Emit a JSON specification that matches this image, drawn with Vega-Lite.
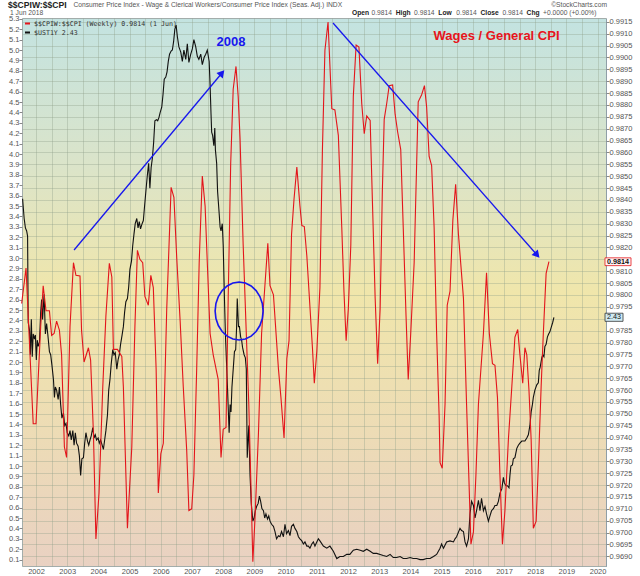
{
"$schema": "https://vega.github.io/schema/vega-lite/v6.json",
"width": 584, "height": 548, "autosize": "none",
"padding": {"left": 22, "top": 18, "right": 34, "bottom": 10},
"background": "white",
"view": {"stroke": "#a3adab", "strokeWidth": 1, "fill": {"gradient": "linear", "x1": 0, "y1": 0, "x2": 0, "y2": 1, "stops": [{"offset": 0, "color": "#c3e3e1"}, {"offset": 0.27, "color": "#dbe4c9"}, {"offset": 0.5, "color": "#f0e6ab"}, {"offset": 0.75, "color": "#eddcb5"}, {"offset": 1, "color": "#e9d1c2"}]}},
"config": {"font": "Liberation Sans", "axis": {"labelFont": "Liberation Sans", "labelFontSize": 7.5, "labelColor": "#555", "title": null, "gridColor": "#8fa08a", "gridOpacity": 0.45, "gridWidth": 0.8}},
"datasets": {
"cpi": [{"yr":2001.54,"r":0.97964},{"yr":2001.68,"r":0.98113},{"yr":2001.91,"r":0.97458},{"yr":2002.0,"r":0.97458},{"yr":2002.15,"r":0.97867},{"yr":2002.23,"r":0.98039},{"yr":2002.32,"r":0.97934},{"yr":2002.43,"r":0.97934},{"yr":2002.5,"r":0.9783},{"yr":2002.58,"r":0.97838},{"yr":2002.66,"r":0.9789},{"yr":2002.75,"r":0.97852},{"yr":2002.82,"r":0.97748},{"yr":2002.91,"r":0.9736},{"yr":2002.98,"r":0.97316},{"yr":2003.09,"r":0.97867},{"yr":2003.2,"r":0.98136},{"yr":2003.28,"r":0.98083},{"yr":2003.41,"r":0.9808},{"yr":2003.46,"r":0.97852},{"yr":2003.54,"r":0.97718},{"yr":2003.68,"r":0.97778},{"yr":2003.75,"r":0.97726},{"yr":2003.84,"r":0.9742},{"yr":2003.92,"r":0.96973},{"yr":2004.02,"r":0.97167},{"yr":2004.14,"r":0.97614},{"yr":2004.24,"r":0.97912},{"yr":2004.35,"r":0.98133},{"yr":2004.43,"r":0.98076},{"yr":2004.48,"r":0.97771},{"yr":2004.61,"r":0.97771},{"yr":2004.75,"r":0.97741},{"yr":2004.8,"r":0.97614},{"yr":2004.93,"r":0.97018},{"yr":2005.07,"r":0.9736},{"yr":2005.17,"r":0.97867},{"yr":2005.25,"r":0.98188},{"yr":2005.33,"r":0.9815},{"yr":2005.42,"r":0.98136},{"yr":2005.49,"r":0.97994},{"yr":2005.6,"r":0.97957},{"yr":2005.68,"r":0.98083},{"yr":2005.76,"r":0.98031},{"yr":2005.85,"r":0.97689},{"yr":2005.92,"r":0.97167},{"yr":2006.0,"r":0.97331},{"yr":2006.08,"r":0.97376},{"yr":2006.19,"r":0.97942},{"yr":2006.33,"r":0.98453},{"yr":2006.42,"r":0.98411},{"yr":2006.51,"r":0.98158},{"yr":2006.62,"r":0.9789},{"yr":2006.72,"r":0.97614},{"yr":2006.83,"r":0.97346},{"yr":2006.9,"r":0.97093},{"yr":2006.99,"r":0.971},{"yr":2007.06,"r":0.97242},{"yr":2007.15,"r":0.97689},{"yr":2007.23,"r":0.98136},{"yr":2007.33,"r":0.98501},{"yr":2007.42,"r":0.98374},{"yr":2007.49,"r":0.98136},{"yr":2007.58,"r":0.97838},{"yr":2007.68,"r":0.97748},{"yr":2007.84,"r":0.97644},{"yr":2007.93,"r":0.97316},{"yr":2008.0,"r":0.97435},{"yr":2008.09,"r":0.97443},{"yr":2008.16,"r":0.97987},{"yr":2008.24,"r":0.98553},{"yr":2008.32,"r":0.98866},{"yr":2008.41,"r":0.98962},{"yr":2008.48,"r":0.98836},{"yr":2008.54,"r":0.98657},{"yr":2008.64,"r":0.9821},{"yr":2008.82,"r":0.9754},{"yr":2008.88,"r":0.97242},{"yr":2008.95,"r":0.96877},{"yr":2009.02,"r":0.97063},{"yr":2009.13,"r":0.9742},{"yr":2009.23,"r":0.97838},{"yr":2009.34,"r":0.98046},{"yr":2009.43,"r":0.98218},{"yr":2009.5,"r":0.98039},{"yr":2009.61,"r":0.98001},{"yr":2009.77,"r":0.97689},{"yr":2009.85,"r":0.97569},{"yr":2009.95,"r":0.97398},{"yr":2010.04,"r":0.97733},{"yr":2010.11,"r":0.97808},{"yr":2010.19,"r":0.98255},{"yr":2010.27,"r":0.98404},{"yr":2010.36,"r":0.98538},{"yr":2010.46,"r":0.98374},{"yr":2010.52,"r":0.98292},{"yr":2010.6,"r":0.98288},{"yr":2010.68,"r":0.98165},{"yr":2010.86,"r":0.97778},{"yr":2010.92,"r":0.97629},{"yr":2011.0,"r":0.97763},{"yr":2011.1,"r":0.98031},{"yr":2011.18,"r":0.98612},{"yr":2011.26,"r":0.9903},{"yr":2011.36,"r":0.99149},{"yr":2011.48,"r":0.98784},{"yr":2011.58,"r":0.98779},{"yr":2011.69,"r":0.98672},{"yr":2011.8,"r":0.98285},{"yr":2011.87,"r":0.98016},{"yr":2011.94,"r":0.97808},{"yr":2012.01,"r":0.97942},{"yr":2012.09,"r":0.9821},{"yr":2012.17,"r":0.98836},{"yr":2012.26,"r":0.99052},{"yr":2012.35,"r":0.99044},{"yr":2012.44,"r":0.98806},{"yr":2012.52,"r":0.98679},{"yr":2012.6,"r":0.98754},{"yr":2012.71,"r":0.98735},{"yr":2012.79,"r":0.98359},{"yr":2012.87,"r":0.97987},{"yr":2012.95,"r":0.97711},{"yr":2013.03,"r":0.97942},{"yr":2013.1,"r":0.98434},{"yr":2013.16,"r":0.98739},{"yr":2013.24,"r":0.98806},{"yr":2013.32,"r":0.98881},{"yr":2013.43,"r":0.98884},{"yr":2013.51,"r":0.98761},{"yr":2013.59,"r":0.98687},{"yr":2013.69,"r":0.98612},{"yr":2013.77,"r":0.98285},{"yr":2013.86,"r":0.97912},{"yr":2013.93,"r":0.97644},{"yr":2014.01,"r":0.97838},{"yr":2014.12,"r":0.98136},{"yr":2014.25,"r":0.98813},{"yr":2014.36,"r":0.98843},{"yr":2014.45,"r":0.98881},{"yr":2014.52,"r":0.98791},{"yr":2014.6,"r":0.98583},{"yr":2014.68,"r":0.98545},{"yr":2014.76,"r":0.98285},{"yr":2014.84,"r":0.97838},{"yr":2014.92,"r":0.97495},{"yr":2014.95,"r":0.97294},{"yr":2015.02,"r":0.97271},{"yr":2015.11,"r":0.9754},{"yr":2015.18,"r":0.97957},{"yr":2015.27,"r":0.98016},{"yr":2015.36,"r":0.98314},{"yr":2015.45,"r":0.98466},{"yr":2015.54,"r":0.98255},{"yr":2015.7,"r":0.97987},{"yr":2015.8,"r":0.9754},{"yr":2015.94,"r":0.96951},{"yr":2016.02,"r":0.97003},{"yr":2016.1,"r":0.97242},{"yr":2016.18,"r":0.9754},{"yr":2016.34,"r":0.97838},{"yr":2016.44,"r":0.98094},{"yr":2016.53,"r":0.97838},{"yr":2016.63,"r":0.97711},{"yr":2016.71,"r":0.97704},{"yr":2016.79,"r":0.97569},{"yr":2016.87,"r":0.97242},{"yr":2016.95,"r":0.96951},{"yr":2017.03,"r":0.97093},{"yr":2017.14,"r":0.97391},{"yr":2017.25,"r":0.97614},{"yr":2017.35,"r":0.97823},{"yr":2017.44,"r":0.97855},{"yr":2017.51,"r":0.97748},{"yr":2017.6,"r":0.97629},{"yr":2017.67,"r":0.97778},{"yr":2017.73,"r":0.97748},{"yr":2017.8,"r":0.97599},{"yr":2017.87,"r":0.97391},{"yr":2017.94,"r":0.97018},{"yr":2018.03,"r":0.97048},{"yr":2018.11,"r":0.97316},{"yr":2018.19,"r":0.97614},{"yr":2018.26,"r":0.97838},{"yr":2018.35,"r":0.98091},{"yr":2018.44,"r":0.9814}],
"ust": [{"yr":2001.57,"v":3.57},{"yr":2001.62,"v":3.38},{"yr":2001.66,"v":3.29},{"yr":2001.7,"v":3.26},{"yr":2001.73,"v":3.21},{"yr":2001.75,"v":2.38},{"yr":2001.79,"v":2.31},{"yr":2001.82,"v":2.07},{"yr":2001.85,"v":2.41},{"yr":2001.88,"v":2.05},{"yr":2001.91,"v":2.27},{"yr":2001.95,"v":2.22},{"yr":2001.98,"v":2.26},{"yr":2002.01,"v":2.02},{"yr":2002.04,"v":2.21},{"yr":2002.07,"v":2.15},{"yr":2002.11,"v":2.19},{"yr":2002.15,"v":2.48},{"yr":2002.18,"v":2.6},{"yr":2002.21,"v":2.41},{"yr":2002.26,"v":2.65},{"yr":2002.3,"v":2.27},{"yr":2002.34,"v":2.37},{"yr":2002.38,"v":2.26},{"yr":2002.43,"v":2.1},{"yr":2002.47,"v":2.07},{"yr":2002.51,"v":1.97},{"yr":2002.56,"v":1.83},{"yr":2002.59,"v":1.66},{"yr":2002.62,"v":1.76},{"yr":2002.66,"v":1.73},{"yr":2002.71,"v":1.64},{"yr":2002.75,"v":1.76},{"yr":2002.79,"v":1.59},{"yr":2002.83,"v":1.46},{"yr":2002.88,"v":1.51},{"yr":2002.92,"v":1.39},{"yr":2002.96,"v":1.41},{"yr":2003.0,"v":1.32},{"yr":2003.05,"v":1.29},{"yr":2003.09,"v":1.34},{"yr":2003.13,"v":1.25},{"yr":2003.18,"v":1.34},{"yr":2003.22,"v":1.2},{"yr":2003.26,"v":1.32},{"yr":2003.3,"v":1.22},{"yr":2003.35,"v":1.19},{"yr":2003.39,"v":1.1},{"yr":2003.43,"v":0.91},{"yr":2003.47,"v":1.07},{"yr":2003.52,"v":1.08},{"yr":2003.56,"v":1.22},{"yr":2003.6,"v":1.32},{"yr":2003.65,"v":1.24},{"yr":2003.69,"v":1.2},{"yr":2003.73,"v":1.25},{"yr":2003.77,"v":1.29},{"yr":2003.82,"v":1.37},{"yr":2003.86,"v":1.27},{"yr":2003.9,"v":1.3},{"yr":2003.94,"v":1.25},{"yr":2003.99,"v":1.27},{"yr":2004.03,"v":1.22},{"yr":2004.07,"v":1.25},{"yr":2004.12,"v":1.2},{"yr":2004.16,"v":1.16},{"yr":2004.2,"v":1.25},{"yr":2004.24,"v":1.34},{"yr":2004.29,"v":1.49},{"yr":2004.33,"v":1.73},{"yr":2004.37,"v":1.83},{"yr":2004.41,"v":1.98},{"yr":2004.46,"v":2.12},{"yr":2004.5,"v":2.07},{"yr":2004.54,"v":2.09},{"yr":2004.59,"v":1.93},{"yr":2004.63,"v":2.02},{"yr":2004.67,"v":2.07},{"yr":2004.71,"v":2.17},{"yr":2004.76,"v":2.26},{"yr":2004.8,"v":2.34},{"yr":2004.84,"v":2.48},{"yr":2004.88,"v":2.58},{"yr":2004.93,"v":2.61},{"yr":2004.97,"v":2.72},{"yr":2005.01,"v":2.89},{"yr":2005.06,"v":2.97},{"yr":2005.1,"v":3.12},{"yr":2005.14,"v":3.23},{"yr":2005.18,"v":3.33},{"yr":2005.23,"v":3.38},{"yr":2005.27,"v":3.29},{"yr":2005.31,"v":3.35},{"yr":2005.35,"v":3.28},{"yr":2005.4,"v":3.33},{"yr":2005.44,"v":3.36},{"yr":2005.48,"v":3.5},{"yr":2005.53,"v":3.67},{"yr":2005.57,"v":3.8},{"yr":2005.61,"v":3.91},{"yr":2005.65,"v":3.67},{"yr":2005.69,"v":3.87},{"yr":2005.73,"v":3.96},{"yr":2005.77,"v":4.11},{"yr":2005.81,"v":4.32},{"yr":2005.86,"v":4.33},{"yr":2005.9,"v":4.32},{"yr":2005.94,"v":4.35},{"yr":2005.98,"v":4.4},{"yr":2006.03,"v":4.45},{"yr":2006.07,"v":4.57},{"yr":2006.11,"v":4.72},{"yr":2006.16,"v":4.74},{"yr":2006.2,"v":4.79},{"yr":2006.24,"v":4.89},{"yr":2006.28,"v":4.96},{"yr":2006.33,"v":4.99},{"yr":2006.37,"v":5.0},{"yr":2006.41,"v":5.08},{"yr":2006.45,"v":5.2},{"yr":2006.49,"v":5.24},{"yr":2006.53,"v":5.13},{"yr":2006.58,"v":5.03},{"yr":2006.64,"v":4.98},{"yr":2006.69,"v":4.89},{"yr":2006.74,"v":5.0},{"yr":2006.8,"v":4.91},{"yr":2006.85,"v":5.06},{"yr":2006.9,"v":4.88},{"yr":2006.96,"v":4.96},{"yr":2007.01,"v":5.01},{"yr":2007.06,"v":5.1},{"yr":2007.12,"v":5.03},{"yr":2007.17,"v":4.94},{"yr":2007.22,"v":4.91},{"yr":2007.28,"v":4.96},{"yr":2007.33,"v":4.86},{"yr":2007.39,"v":4.93},{"yr":2007.44,"v":4.96},{"yr":2007.49,"v":5.0},{"yr":2007.55,"v":4.89},{"yr":2007.58,"v":4.66},{"yr":2007.61,"v":4.38},{"yr":2007.63,"v":4.21},{"yr":2007.66,"v":4.18},{"yr":2007.7,"v":4.08},{"yr":2007.73,"v":4.25},{"yr":2007.75,"v":4.04},{"yr":2007.79,"v":3.91},{"yr":2007.82,"v":3.64},{"yr":2007.87,"v":3.43},{"yr":2007.9,"v":3.3},{"yr":2007.93,"v":3.26},{"yr":2007.97,"v":3.33},{"yr":2008.0,"v":3.12},{"yr":2008.04,"v":2.61},{"yr":2008.07,"v":2.27},{"yr":2008.1,"v":2.04},{"yr":2008.14,"v":1.73},{"yr":2008.19,"v":1.32},{"yr":2008.22,"v":1.59},{"yr":2008.25,"v":1.52},{"yr":2008.28,"v":1.76},{"yr":2008.33,"v":1.97},{"yr":2008.36,"v":2.1},{"yr":2008.4,"v":2.12},{"yr":2008.43,"v":2.34},{"yr":2008.45,"v":2.61},{"yr":2008.49,"v":2.34},{"yr":2008.52,"v":2.34},{"yr":2008.56,"v":2.24},{"yr":2008.59,"v":2.21},{"yr":2008.62,"v":2.14},{"yr":2008.67,"v":2.07},{"yr":2008.71,"v":2.04},{"yr":2008.74,"v":1.93},{"yr":2008.77,"v":1.08},{"yr":2008.82,"v":1.39},{"yr":2008.86,"v":0.91},{"yr":2008.9,"v":0.64},{"yr":2008.95,"v":0.47},{"yr":2008.99,"v":0.5},{"yr":2009.03,"v":0.57},{"yr":2009.07,"v":0.61},{"yr":2009.12,"v":0.64},{"yr":2009.16,"v":0.71},{"yr":2009.2,"v":0.66},{"yr":2009.24,"v":0.59},{"yr":2009.29,"v":0.57},{"yr":2009.33,"v":0.5},{"yr":2009.37,"v":0.54},{"yr":2009.42,"v":0.49},{"yr":2009.46,"v":0.52},{"yr":2009.5,"v":0.47},{"yr":2009.55,"v":0.44},{"yr":2009.61,"v":0.42},{"yr":2009.66,"v":0.37},{"yr":2009.71,"v":0.3},{"yr":2009.77,"v":0.33},{"yr":2009.82,"v":0.32},{"yr":2009.87,"v":0.37},{"yr":2009.93,"v":0.32},{"yr":2009.98,"v":0.44},{"yr":2010.03,"v":0.35},{"yr":2010.09,"v":0.38},{"yr":2010.14,"v":0.33},{"yr":2010.19,"v":0.42},{"yr":2010.25,"v":0.44},{"yr":2010.3,"v":0.4},{"yr":2010.36,"v":0.37},{"yr":2010.41,"v":0.32},{"yr":2010.46,"v":0.3},{"yr":2010.52,"v":0.28},{"yr":2010.57,"v":0.25},{"yr":2010.62,"v":0.27},{"yr":2010.68,"v":0.23},{"yr":2010.73,"v":0.23},{"yr":2010.78,"v":0.21},{"yr":2010.84,"v":0.25},{"yr":2010.89,"v":0.27},{"yr":2010.94,"v":0.23},{"yr":2011.0,"v":0.27},{"yr":2011.05,"v":0.3},{"yr":2011.1,"v":0.28},{"yr":2011.21,"v":0.23},{"yr":2011.32,"v":0.21},{"yr":2011.42,"v":0.23},{"yr":2011.53,"v":0.18},{"yr":2011.64,"v":0.11},{"yr":2011.74,"v":0.13},{"yr":2011.85,"v":0.13},{"yr":2011.96,"v":0.15},{"yr":2012.06,"v":0.15},{"yr":2012.17,"v":0.19},{"yr":2012.28,"v":0.2},{"yr":2012.39,"v":0.19},{"yr":2012.49,"v":0.18},{"yr":2012.6,"v":0.2},{"yr":2012.71,"v":0.18},{"yr":2012.81,"v":0.16},{"yr":2012.92,"v":0.16},{"yr":2013.03,"v":0.15},{"yr":2013.13,"v":0.14},{"yr":2013.24,"v":0.13},{"yr":2013.35,"v":0.15},{"yr":2013.45,"v":0.12},{"yr":2013.56,"v":0.12},{"yr":2013.67,"v":0.13},{"yr":2013.77,"v":0.11},{"yr":2013.88,"v":0.11},{"yr":2013.99,"v":0.12},{"yr":2014.09,"v":0.11},{"yr":2014.2,"v":0.11},{"yr":2014.31,"v":0.1},{"yr":2014.41,"v":0.1},{"yr":2014.52,"v":0.11},{"yr":2014.63,"v":0.11},{"yr":2014.74,"v":0.13},{"yr":2014.84,"v":0.15},{"yr":2014.95,"v":0.21},{"yr":2015.0,"v":0.25},{"yr":2015.06,"v":0.21},{"yr":2015.16,"v":0.27},{"yr":2015.27,"v":0.28},{"yr":2015.38,"v":0.27},{"yr":2015.43,"v":0.3},{"yr":2015.48,"v":0.32},{"yr":2015.59,"v":0.4},{"yr":2015.64,"v":0.38},{"yr":2015.7,"v":0.37},{"yr":2015.75,"v":0.27},{"yr":2015.8,"v":0.23},{"yr":2015.86,"v":0.3},{"yr":2015.91,"v":0.54},{"yr":2015.96,"v":0.66},{"yr":2016.02,"v":0.62},{"yr":2016.07,"v":0.5},{"yr":2016.12,"v":0.57},{"yr":2016.18,"v":0.67},{"yr":2016.23,"v":0.57},{"yr":2016.28,"v":0.69},{"yr":2016.34,"v":0.57},{"yr":2016.39,"v":0.61},{"yr":2016.44,"v":0.54},{"yr":2016.5,"v":0.47},{"yr":2016.55,"v":0.52},{"yr":2016.6,"v":0.57},{"yr":2016.66,"v":0.59},{"yr":2016.71,"v":0.62},{"yr":2016.77,"v":0.62},{"yr":2016.82,"v":0.66},{"yr":2016.87,"v":0.74},{"yr":2016.93,"v":0.78},{"yr":2016.98,"v":0.89},{"yr":2017.01,"v":0.84},{"yr":2017.06,"v":0.81},{"yr":2017.11,"v":0.81},{"yr":2017.16,"v":0.79},{"yr":2017.19,"v":0.91},{"yr":2017.22,"v":1.0},{"yr":2017.27,"v":1.01},{"yr":2017.3,"v":1.07},{"yr":2017.35,"v":1.08},{"yr":2017.41,"v":1.17},{"yr":2017.46,"v":1.2},{"yr":2017.51,"v":1.22},{"yr":2017.57,"v":1.24},{"yr":2017.62,"v":1.24},{"yr":2017.67,"v":1.24},{"yr":2017.73,"v":1.27},{"yr":2017.78,"v":1.3},{"yr":2017.83,"v":1.39},{"yr":2017.87,"v":1.52},{"yr":2017.91,"v":1.59},{"yr":2017.94,"v":1.66},{"yr":2017.99,"v":1.73},{"yr":2018.05,"v":1.78},{"yr":2018.1,"v":1.8},{"yr":2018.13,"v":1.92},{"yr":2018.16,"v":1.95},{"yr":2018.21,"v":2.04},{"yr":2018.24,"v":2.07},{"yr":2018.28,"v":2.05},{"yr":2018.31,"v":2.15},{"yr":2018.35,"v":2.17},{"yr":2018.39,"v":2.24},{"yr":2018.43,"v":2.27},{"yr":2018.47,"v":2.29},{"yr":2018.52,"v":2.34},{"yr":2018.56,"v":2.38},{"yr":2018.6,"v":2.43}],
"arrows": [{"x1":2003.22,"y1":3.077,"x2":2007.96,"y2":4.779},{"x1":2011.52,"y1":5.26,"x2":2018.06,"y2":3.029}]
},
"layer": [
{"layer": [
  {"data": {"name": "ust"}, "mark": {"type": "line", "strokeWidth": 1.1},
   "encoding": {
    "x": {"field": "yr", "type": "quantitative", "scale": {"domain": [2001.551, 2020.269], "nice": false, "zero": false},
          "axis": {"values": [2002,2002.5,2003,2003.5,2004,2004.5,2005,2005.5,2006,2006.5,2007,2007.5,2008,2008.5,2009,2009.5,2010,2010.5,2011,2011.5,2012,2012.5,2013,2013.5,2014,2014.5,2015,2015.5,2016,2016.5,2017,2017.5,2018,2018.5,2019,2019.5,2020],
                   "tickCount": 500, "labelExpr": "datum.value % 1 === 0 ? format(datum.value, 'd') : ''", "grid": true, "ticks": false, "domain": false, "labelPadding": 1, "labelOverlap": false, "title": null}},
    "y": {"field": "v", "type": "quantitative", "scale": {"domain": [0.0385, 5.3077], "nice": false, "zero": false},
          "axis": {"orient": "left", "values": [0.1,0.2,0.3,0.4,0.5,0.6,0.7,0.8,0.9,1.0,1.1,1.2,1.3,1.4,1.5,1.6,1.7,1.8,1.9,2.0,2.1,2.2,2.3,2.4,2.5,2.6,2.7,2.8,2.9,3.0,3.1,3.2,3.3,3.4,3.5,3.6,3.7,3.8,3.9,4.0,4.1,4.2,4.3,4.4,4.5,4.6,4.7,4.8,4.9,5.0,5.1,5.2,5.3],
                   "tickCount": 500, "format": ".1f", "grid": false, "ticks": true, "tickSize": 3, "tickColor": "#888", "domain": false, "labelPadding": 0, "labelOverlap": false, "title": null}},
    "color": {"datum": "$UST1Y 2.43", "type": "nominal",
              "scale": {"domain": ["$$CPIW:$$CPI (Weekly) 0.9814 (1 Jun)", "$UST1Y 2.43"], "range": ["#e3151b", "#111111"]},
              "legend": {"orient": "top-left", "offset": 2, "padding": 0, "title": null, "symbolType": "stroke", "symbolSize": 25, "symbolStrokeWidth": 2, "labelFont": "DejaVu Sans Mono", "labelFontSize": 6.6, "labelColor": "#333", "rowPadding": 0, "labelOffset": 3, "labelLimit": 0}}
   }},
  {"data": {"values": [{"yr": 2020.526, "v": 2.43}]},
   "mark": {"type": "point", "shape": "M -1 -0.45 L 1 -0.45 L 1 0.45 L -1 0.45 Z", "size": 324, "filled": true, "fill": "#cfeaf2", "stroke": "#333", "strokeWidth": 0.8, "opacity": 1},
   "encoding": {"x": {"field": "yr", "type": "quantitative"}, "y": {"field": "v", "type": "quantitative"}}},
  {"data": {"values": [{"yr": 2020.526, "v": 2.43, "t": "2.43"}]},
   "mark": {"type": "text", "fontSize": 7.2, "color": "#111", "align": "center", "baseline": "middle"},
   "encoding": {"x": {"field": "yr", "type": "quantitative"}, "y": {"field": "v", "type": "quantitative"}, "text": {"field": "t"}}}
]},
{"layer": [
  {"data": {"name": "cpi"}, "mark": {"type": "line", "strokeWidth": 1.1},
   "encoding": {
    "x": {"field": "yr", "type": "quantitative"},
    "y": {"field": "r", "type": "quantitative", "scale": {"domain": [0.968594, 0.991658], "nice": false, "zero": false},
          "axis": {"orient": "right", "values": [0.969,0.9695,0.97,0.9705,0.971,0.9715,0.972,0.9725,0.973,0.9735,0.974,0.9745,0.975,0.9755,0.976,0.9765,0.977,0.9775,0.978,0.9785,0.979,0.9795,0.98,0.9805,0.981,0.9815,0.982,0.9825,0.983,0.9835,0.984,0.9845,0.985,0.9855,0.986,0.9865,0.987,0.9875,0.988,0.9885,0.989,0.9895,0.99,0.9905,0.991,0.9915],
                   "tickCount": 500, "labelExpr": "datum.value === 0.9815 || datum.value === 0.979 ? '' : format(datum.value, '.4f')", "grid": true, "ticks": true, "tickSize": 3, "tickColor": "#888", "domain": true, "domainColor": "#7d90a3", "domainDash": [1, 1], "labelPadding": 0, "labelOverlap": false, "title": null}},
    "color": {"datum": "$$CPIW:$$CPI (Weekly) 0.9814 (1 Jun)", "type": "nominal"}
   }},
  {"data": {"values": [{"yr": 2020.654, "r": 0.9814}]},
   "mark": {"type": "point", "shape": "M -1 -0.3 L 1 -0.3 L 1 0.3 L -1 0.3 Z", "size": 676, "filled": true, "fill": "#fff3f3", "stroke": "#e3151b", "strokeWidth": 0.8, "opacity": 1},
   "encoding": {"x": {"field": "yr", "type": "quantitative"}, "y": {"field": "r", "type": "quantitative"}}},
  {"data": {"values": [{"yr": 2020.654, "r": 0.9814, "t": "0.9814"}]},
   "mark": {"type": "text", "fontSize": 7.2, "fontWeight": "bold", "color": "#111", "align": "center", "baseline": "middle"},
   "encoding": {"x": {"field": "yr", "type": "quantitative"}, "y": {"field": "r", "type": "quantitative"}, "text": {"field": "t"}}}
]},
{"layer": [
  {"data": {"name": "arrows"}, "mark": {"type": "rule", "color": "#1717ee", "strokeWidth": 1.3},
   "encoding": {"x": {"field": "x1", "type": "quantitative"}, "y": {"field": "y1", "type": "quantitative", "scale": {"domain": [0.0385, 5.3077], "nice": false, "zero": false}, "axis": null},
                "x2": {"field": "x2"}, "y2": {"field": "y2"}}},
  {"data": {"values": [{"yr": 2007.96, "v": 4.779}]},
   "mark": {"type": "point", "shape": "triangle-up", "size": 70, "filled": true, "color": "#1717ee", "opacity": 1, "angle": 40},
   "encoding": {"x": {"field": "yr", "type": "quantitative"}, "y": {"field": "v", "type": "quantitative"}}},
  {"data": {"values": [{"yr": 2018.06, "v": 3.029}]},
   "mark": {"type": "point", "shape": "triangle-up", "size": 70, "filled": true, "color": "#1717ee", "opacity": 1, "angle": 139},
   "encoding": {"x": {"field": "yr", "type": "quantitative"}, "y": {"field": "v", "type": "quantitative"}}},
  {"data": {"values": [{"yr": 2008.51, "v": 2.49}]},
   "mark": {"type": "point", "shape": "M 1 0 L 0.966 0.313 L 0.866 0.604 L 0.707 0.854 L 0.5 1.046 L 0.259 1.167 L 0 1.208 L -0.259 1.167 L -0.5 1.046 L -0.707 0.854 L -0.866 0.604 L -0.966 0.313 L -1 0 L -0.966 -0.313 L -0.866 -0.604 L -0.707 -0.854 L -0.5 -1.046 L -0.259 -1.167 L 0 -1.208 L 0.259 -1.167 L 0.5 -1.046 L 0.707 -0.854 L 0.866 -0.604 L 0.966 -0.313 Z", "size": 2304, "filled": false, "stroke": "#1717ee", "strokeWidth": 1.6, "opacity": 1},
   "encoding": {"x": {"field": "yr", "type": "quantitative"}, "y": {"field": "v", "type": "quantitative"}}},
  {"data": {"values": [{"yr": 2008.25, "v": 5.078, "t": "2008"}]},
   "mark": {"type": "text", "fontSize": 13, "fontWeight": "bold", "color": "#1717ee", "align": "center", "baseline": "middle"},
   "encoding": {"x": {"field": "yr", "type": "quantitative"}, "y": {"field": "v", "type": "quantitative"}, "text": {"field": "t"}}},
  {"data": {"values": [{"yr": 2016.76, "v": 5.135, "t": "Wages / General CPI"}]},
   "mark": {"type": "text", "fontSize": 13, "fontWeight": "bold", "color": "#e8141c", "align": "center", "baseline": "middle"},
   "encoding": {"x": {"field": "yr", "type": "quantitative"}, "y": {"field": "v", "type": "quantitative"}, "text": {"field": "t"}}},
  {"data": {"values": [{"yr": 2001.103, "v": 5.4346, "t": "$$CPIW:$$CPI"}]},
   "mark": {"type": "text", "fontSize": 8.6, "fontWeight": "bold", "color": "#222", "align": "left", "baseline": "middle"},
   "encoding": {"x": {"field": "yr", "type": "quantitative"}, "y": {"field": "v", "type": "quantitative"}, "text": {"field": "t"}}},
  {"data": {"values": [
     {"yr": 2003.2, "v": 5.4346, "t": "Consumer Price Index - Wage & Clerical Workers/Consumer Price Index (Seas. Adj.) INDX"},
     {"yr": 2001.167, "v": 5.3596, "t": "1 Jun 2018"},
     {"yr": 2012.753, "v": 5.3596, "t": "0.9814"},
     {"yr": 2014.119, "v": 5.3596, "t": "0.9814"},
     {"yr": 2015.471, "v": 5.3596, "t": "0.9814"},
     {"yr": 2016.949, "v": 5.3596, "t": "0.9814"},
     {"yr": 2018.25, "v": 5.3596, "t": "+0.0000 (+0.00%)"}]},
   "mark": {"type": "text", "fontSize": 6.7, "color": "#555", "align": "left", "baseline": "middle"},
   "encoding": {"x": {"field": "yr", "type": "quantitative"}, "y": {"field": "v", "type": "quantitative"}, "text": {"field": "t"}}},
  {"data": {"values": [
     {"yr": 2012.128, "v": 5.3596, "t": "Open"},
     {"yr": 2013.529, "v": 5.3596, "t": "High"},
     {"yr": 2014.894, "v": 5.3596, "t": "Low"},
     {"yr": 2016.247, "v": 5.3596, "t": "Close"},
     {"yr": 2017.724, "v": 5.3596, "t": "Chg"}]},
   "mark": {"type": "text", "fontSize": 6.7, "fontWeight": "bold", "color": "#222", "align": "left", "baseline": "middle"},
   "encoding": {"x": {"field": "yr", "type": "quantitative"}, "y": {"field": "v", "type": "quantitative"}, "text": {"field": "t"}}},
  {"data": {"values": [{"yr": 2020.301, "v": 5.4346, "t": "©StockCharts.com"}]},
   "mark": {"type": "text", "fontSize": 6.7, "color": "#555", "align": "right", "baseline": "middle"},
   "encoding": {"x": {"field": "yr", "type": "quantitative"}, "y": {"field": "v", "type": "quantitative"}, "text": {"field": "t"}}}
]}
],
"resolve": {"scale": {"y": "independent"}}
}
